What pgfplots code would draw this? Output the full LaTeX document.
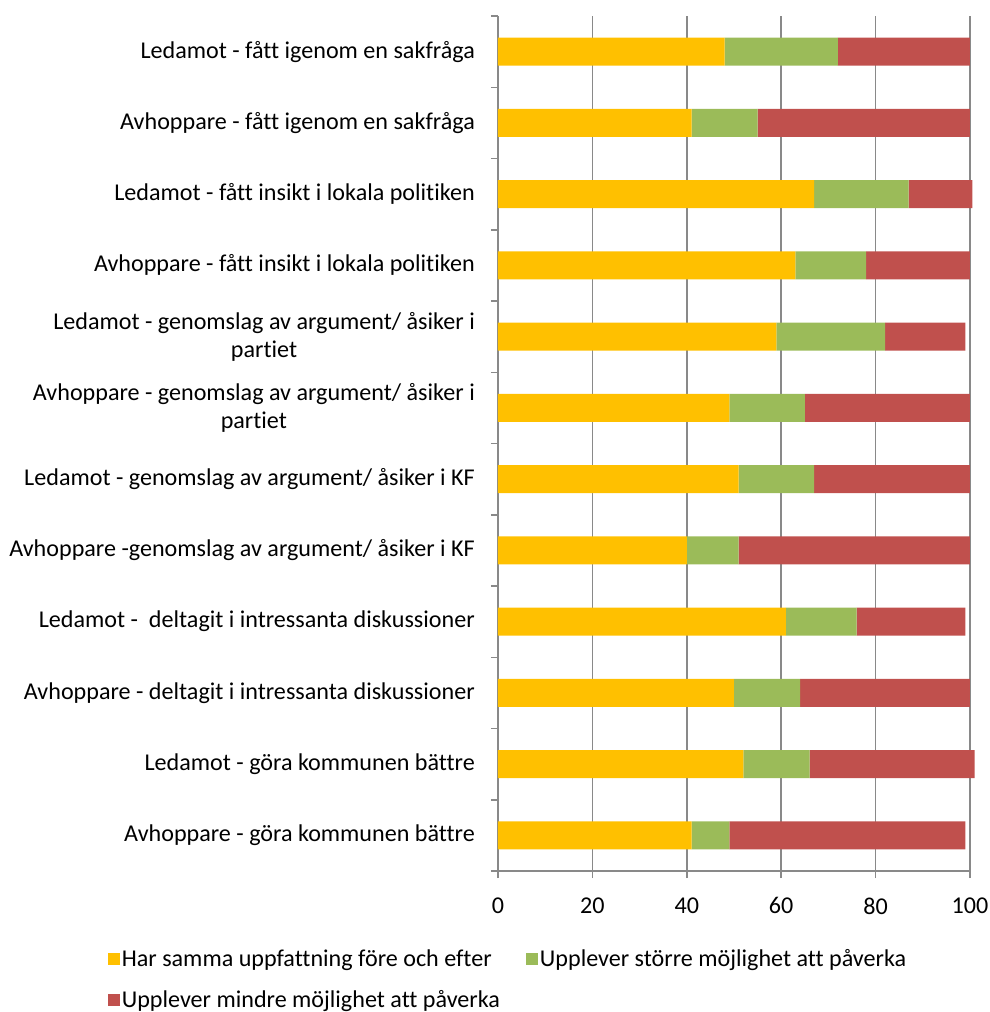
\documentclass[border=0pt]{standalone}
\usepackage{pgfplots}
\pgfplotsset{compat=1.18}
\usepackage{fontspec}
\setmainfont{Carlito}[Ligatures=NoCommon]
\definecolor{cY}{HTML}{FFC000}
\definecolor{cG}{HTML}{9BBB59}
\definecolor{cR}{HTML}{C0504D}
\definecolor{gridc}{HTML}{898989}
\begin{document}
\begin{tikzpicture}
\begin{axis}[
  scale only axis,
  width=472bp, height=855bp,
  clip=false,
  xbar stacked,
  bar width=28bp,
  y dir=reverse,
  xmin=0, xmax=100,
  ymin=-0.5, ymax=11.5,
  xtick={0,20,40,60,80,100},
  ytick={0,...,11},
  /pgf/number format/assume math mode=true,
  yticklabels={
    Ledamot - fått igenom en sakfråga,
    Avhoppare - fått igenom en sakfråga,
    Ledamot - fått insikt i lokala politiken,
    Avhoppare - fått insikt i lokala politiken,
    {Ledamot - genomslag av argument/ åsiker i\\partiet},
    {Avhoppare - genomslag av argument/ åsiker i\\partiet},
    Ledamot - genomslag av argument/ åsiker i KF,
    Avhoppare -genomslag av argument/ åsiker i KF,
    Ledamot - \ deltagit i intressanta diskussioner,
    Avhoppare - deltagit i intressanta diskussioner,
    Ledamot - göra kommunen bättre,
    Avhoppare - göra kommunen bättre},
  minor ytick={-0.5,0.5,...,11.5},
  major y tick style={draw=none},
  minor y tick style={draw=gridc, line width=1.5bp},
  major x tick style={draw=gridc, line width=1.5bp},
  tick align=outside,
  major tick length=7bp,
  minor tick length=7bp,
  xtick pos=bottom, ytick pos=left,
  axis x line*=bottom, axis y line*=left,
  axis line style={draw=gridc, line width=1.5bp, -},
  xmajorgrids,
  major x grid style={draw=gridc, line width=1.5bp},
  yticklabel style={font=\fontsize{24.2}{28.5}\selectfont, align=center, inner sep=0pt, xshift=-16bp},
  xticklabel style={font=\fontsize{24.2}{28}\selectfont, yshift=-16bp},
  legend style={draw=none, at={(-0.827,-0.089)}, anchor=north west,
    font=\fontsize{24.2}{28}\selectfont, inner sep=0pt,
    /tikz/every even column/.append style={column sep=24bp},
    row sep=19bp},
  legend columns=2,
  legend cell align=left,
  legend image code/.code={\fill[#1] (0bp,-6bp) rectangle (12bp,6bp);},
]
\addplot[fill=cY, draw=none] coordinates {(48,0) (41,1) (67,2) (63,3) (59,4) (49,5) (51,6) (40,7) (61,8) (50,9) (52,10) (41,11)};
\addplot[fill=cG, draw=none] coordinates {(24,0) (14,1) (20,2) (15,3) (23,4) (16,5) (16,6) (11,7) (15,8) (14,9) (14,10) (8,11)};
\addplot[fill=cR, draw=none] coordinates {(28,0) (45,1) (13.5,2) (22,3) (17,4) (35,5) (33,6) (49,7) (23,8) (36,9) (35,10) (50,11)};
\legend{Har samma uppfattning före och efter, Upplever större möjlighet att påverka, Upplever mindre möjlighet att påverka}
\end{axis}
\pgfresetboundingbox
\path[use as bounding box] (current axis.south west) ++(-498bp,-141bp) rectangle ++(990bp,1012bp);
\end{tikzpicture}
\end{document}
